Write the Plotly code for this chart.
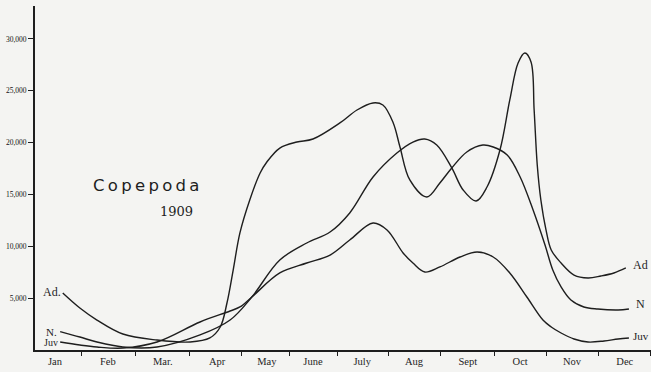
import plotly.graph_objects as go

# Month labels along the x axis
months = ["Jan", "Feb", "Mar.", "Apr", "May", "June", "July", "Aug", "Sept", "Oct", "Nov", "Dec"]

# Sample points (x in months, Jan = 0; y = numbers)
ad_x = [0.15, 0.48, 0.81, 1.31, 1.97, 2.61, 2.99, 3.19, 3.32, 3.44, 3.57, 3.76, 3.96, 4.09,
        4.34, 4.67, 4.98, 5.50, 5.83, 6.14, 6.33, 6.53, 6.66, 6.85, 7.18, 7.43, 7.66, 7.95,
        8.26, 8.46, 8.73, 8.98, 9.23, 9.46, 9.61, 9.77, 9.96, 10.21, 10.48, 10.87, 11.08]
ad_y = [5500, 4050, 2890, 1540, 960, 770, 1160, 2220, 4530, 7710, 11290, 14470, 17070, 18130,
        19480, 20060, 20350, 21900, 23150, 23830, 23630, 21900, 19580, 16400, 14760, 16110, 17560, 19100,
        19770, 19580, 18810, 16690, 13500, 10130, 7720, 6080, 4820, 4150, 3950, 3860, 3950]

n_x = [0.10, 0.48, 0.81, 1.31, 1.97, 2.80, 3.38, 3.80, 4.34, 4.86, 5.31, 5.69, 6.14, 6.60,
       6.91, 7.14, 7.37, 7.66, 7.88, 8.13, 8.34, 8.59, 8.78, 8.94, 9.07, 9.19, 9.25, 9.31,
       9.38, 9.48, 9.58, 9.77, 10.02, 10.29, 10.54, 10.79, 11.02]
n_y = [1770, 1250, 770, 290, 290, 1450, 2890, 5110, 8680, 10320, 11380, 13220, 16690, 19000,
       20060, 20350, 19770, 17560, 15430, 14370, 15720, 19290, 24120, 27680, 28650, 27780, 23150, 17850,
       14470, 11570, 9650, 8390, 7230, 6950, 7140, 7430, 7910]

juv_x = [0.10, 0.48, 0.81, 1.31, 1.97, 2.80, 3.38, 3.57, 3.80, 4.34, 4.86, 5.31, 5.69, 6.14,
         6.41, 6.72, 6.91, 7.14, 7.43, 7.82, 8.15, 8.46, 8.78, 9.11, 9.42, 9.58, 9.77, 10.02,
         10.29, 10.60, 10.87, 11.08]
juv_y = [770, 480, 290, 190, 770, 2700, 3760, 4150, 5110, 7430, 8390, 9160, 10610, 12250,
         11580, 9360, 8390, 7520, 8010, 8970, 9450, 8970, 7430, 5110, 2890, 2220, 1640, 1060,
         770, 870, 1060, 1160]

y_ticks = [5000, 10000, 15000, 20000, 25000, 30000]
y_tick_labels = ["5,000", "10,000", "15,000", "20,000", "25,000", "30,000"]

# layout constants
month_pos = [0, 1.02, 2.08, 3.13, 4.09, 4.98, 5.93, 6.93, 7.97, 8.98, 9.98, 11.0]
mid_pos = [(a + b) / 2 for a, b in zip(month_pos[:-1], month_pos[1:])] + [11.5]
INK = "#1e1e1e"
PAPER = "#f4f4f2"
TS = "\u2009"

fig = go.Figure()
for name, xs, ys in [("Ad", ad_x, ad_y), ("N", n_x, n_y), ("Juv", juv_x, juv_y)]:
    fig.add_trace(go.Scatter(x=xs, y=ys, mode="lines", name=name,
                             line=dict(color=INK, width=1.4, shape="spline", smoothing=1.0),
                             hoverinfo="skip"))

annots = [
    dict(x=0.15, y=5600, text="Ad.", xanchor="right", yanchor="middle", font=dict(size=12)),
    dict(x=0.08, y=1750, text="N.", xanchor="right", yanchor="middle", font=dict(size=11)),
    dict(x=0.09, y=720, text="Juv", xanchor="right", yanchor="middle", font=dict(size=10)),
    dict(x=11.12, y=8200, text="Ad", xanchor="left", yanchor="middle", font=dict(size=12)),
    dict(x=11.18, y=4440, text="N", xanchor="left", yanchor="middle", font=dict(size=12)),
    dict(x=11.12, y=1350, text="Juv", xanchor="left", yanchor="middle", font=dict(size=11)),
    dict(x=1.757, y=15900, text=TS.join("Copepoda"), xanchor="center", yanchor="middle",
         font=dict(size=16.5, family="DejaVu Sans")),
    dict(x=2.336, y=13400, text="1909", xanchor="center", yanchor="middle",
         font=dict(size=13, family="DejaVu Serif")),
]
for a in annots:
    f = dict(family="Liberation Serif", color=INK)
    f.update(a.pop("font"))
    fig.add_annotation(showarrow=False, font=f, **a)

fig.update_layout(
    width=651, height=372,
    margin=dict(l=35, r=0, t=6, b=22, autoexpand=False),
    paper_bgcolor=PAPER, plot_bgcolor=PAPER,
    showlegend=False,
    xaxis=dict(range=[-0.386, 11.506], showgrid=False, zeroline=False, automargin=False,
               showline=True, linecolor=INK, linewidth=2,
               tickmode="array", tickvals=month_pos, ticktext=months, ticks="",
               tickfont=dict(family="Liberation Serif", size=10.5, color=INK),
               minor=dict(tickmode="array", tickvals=mid_pos, ticks="outside",
                          ticklen=4, tickwidth=1.2, tickcolor=INK, showgrid=False)),
    yaxis=dict(range=[0, 33180], showgrid=False, zeroline=False, automargin=False,
               showline=True, linecolor=INK, linewidth=2,
               tickmode="array", tickvals=y_ticks, ticktext=y_tick_labels,
               ticks="outside", ticklen=5, tickwidth=1.4, tickcolor=INK,
               tickfont=dict(family="Liberation Serif", size=7.5, color="#111111")),
)

fig.write_html(
    "out.html",
    config={"displayModeBar": False},
    post_script="document.body.style.margin='0';document.body.style.overflow='hidden';"
                "document.body.style.background='" + PAPER + "';",
)
